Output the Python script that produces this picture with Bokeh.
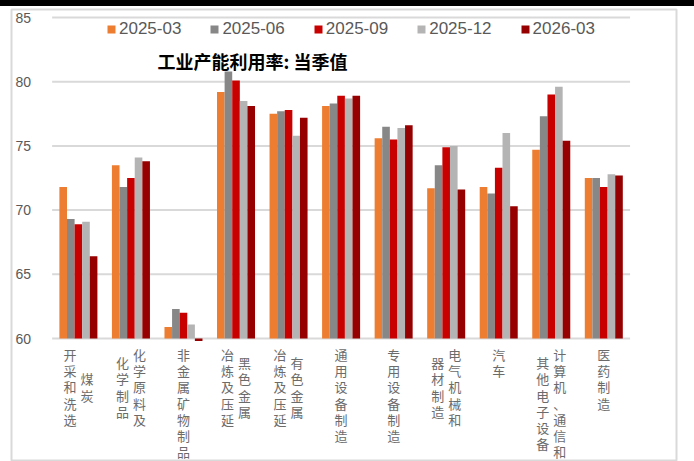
import numpy as np
from bokeh.plotting import figure
from bokeh.models import Range1d, Legend, LegendItem, Label, Div, ColumnDataSource
from bokeh.layouts import column
from bokeh.core.properties import value
from bokeh.embed import file_html
from bokeh.resources import INLINE

# ---------------- data ----------------
categories = ["煤炭开采和洗选", "化学原料及化学制品", "非金属矿物制品", "黑色金属冶炼及压延",
              "有色金属冶炼及压延", "通用设备制造", "专用设备制造", "电气机械和器材制造",
              "汽车", "计算机、通信和其他电子设备", "医药制造"]
# vertical label columns: first column (read first, right side), second column (left side)
label_first = ["煤炭", "化学原料及", "非金属矿物制品", "黑色金属", "有色金属", "通用设备制造",
               "专用设备制造", "电气机械和", "汽车", "计算机、通信和", "医药制造"]
label_second = ["开采和洗选", "化学制品", "", "冶炼及压延", "冶炼及压延", "", "",
                "器材制造", "", "其他电子设备", ""]

series_names = ["2025-03", "2025-06", "2025-09", "2025-12", "2026-03"]
s_2025_03 = [71.8, 73.5, 60.9, 79.2, 77.5, 78.1, 75.6, 71.7, 71.8, 74.7, 72.5]
s_2025_06 = [69.3, 71.8, 62.3, 80.8, 77.7, 78.3, 76.5, 73.5, 71.3, 77.3, 72.5]
s_2025_09 = [68.9, 72.5, 62.0, 80.1, 77.8, 78.9, 75.5, 74.9, 73.3, 79.0, 71.8]
s_2025_12 = [69.1, 74.1, 61.1, 78.5, 75.8, 78.7, 76.4, 75.0, 76.0, 79.6, 72.8]
s_2026_03 = [66.4, 73.8, 59.8, 78.1, 77.2, 78.9, 76.6, 71.6, 70.3, 75.4, 72.7]
series_values = [s_2025_03, s_2025_06, s_2025_09, s_2025_12, s_2026_03]
series_colors = ["#ED7D31", "#878787", "#C80000", "#B4B4B4", "#960000"]

y_ticks = [60, 65, 70, 75, 80, 85]
title_text = "工业产能利用率: 当季值"

# ---------------- layout / style ----------------
W = 694
TOP_BAR = 6
H = 461 - TOP_BAR
FRAME_L, FRAME_R = 11, 676          # page px
FRAME_T = 9                         # page px
PX_PER_CAT = 52.54
CAT0_PX = 77.9                      # page px of first category center
Y_BASE_PX = 338                     # page px of axis minimum
PX_PER_UNIT = 12.84
y_min = y_ticks[0]

frame_w = FRAME_R - FRAME_L
frame_h = 461 - FRAME_T
x_start = (FRAME_L - CAT0_PX) / PX_PER_CAT
x_end = x_start + frame_w / PX_PER_CAT
y_end = y_min + (Y_BASE_PX - FRAME_T) / PX_PER_UNIT
y_start = y_end - frame_h / PX_PER_UNIT

p = figure(width=W, height=H, output_backend="svg", toolbar_location=None,
           x_range=Range1d(x_start, x_end), y_range=Range1d(y_start, y_end),
           x_axis_location=None, y_axis_location=None,
           min_border_left=FRAME_L, min_border_right=W - FRAME_R,
           min_border_top=FRAME_T - TOP_BAR, min_border_bottom=0)
p.xgrid.visible = False
p.ygrid.visible = False
p.outline_line_color = "#D9D9D9"
p.outline_line_width = 2
p.background_fill_color = "white"
p.border_fill_color = "white"

n = len(categories)
idx = np.arange(n)

# grid lines
p.segment(x0=[-0.5] * len(y_ticks), x1=[n - 0.5] * len(y_ticks), y0=y_ticks, y1=y_ticks,
          line_color="#D9D9D9", line_width=2)

# y tick labels
p.text(x=[-0.5] * len(y_ticks), y=y_ticks, text=[str(t) for t in y_ticks],
       x_offset=-21, text_align="right", text_baseline="middle",
       text_font=value("Liberation Sans"), text_font_size="14px", text_color="#595959")

# bars
bw = 0.1447
renderers = []
for k, (name, vals, col) in enumerate(zip(series_names, series_values, series_colors)):
    r = p.vbar(x=idx + (k - 2) * bw, top=vals, bottom=y_min, width=bw,
               fill_color=col, line_color=None)
    renderers.append(r)

# category labels (vertical, stacked characters, one glyph per character)
LINE_PX = 16.2
FIRST_PX = 16
xs, xo, yo, txt = [], [], [], []
for i in range(n):
    a, b = label_first[i], label_second[i]
    cols = [(a, 8.5), (b, -8.5)] if b else [(a, 0)]
    longest = max(len(s) for s, _ in cols)
    for s, off in cols:
        start = FIRST_PX + (longest - len(s)) * LINE_PX / 2
        for j, ch in enumerate(s):
            xs.append(i); xo.append(off)
            yo.append(start + j * LINE_PX)
            txt.append(ch)
src = ColumnDataSource(dict(x=xs, y=[y_min] * len(xs), xo=xo, yo=yo, t=txt))
p.text(x="x", y="y", text="t", x_offset="xo", y_offset="yo", source=src,
       text_align="center", text_baseline="middle",
       text_font=value("Noto Sans CJK SC"), text_font_size="13px", text_color="#6B6B6B")

# legend
legend = Legend(items=[LegendItem(label=nm, renderers=[r]) for nm, r in zip(series_names, renderers)],
                orientation="horizontal", location=(95, frame_h - 30),
                glyph_width=10, glyph_height=10, label_standoff=3, spacing=28,
                padding=0, margin=0, border_line_color=None, background_fill_alpha=0,
                label_text_font="Liberation Sans", label_text_font_size="17px",
                label_text_color="#595959", label_height=20)
p.add_layout(legend)

# chart title inside plot area
p.add_layout(Label(x=146, y=461 - 60, x_units="screen", y_units="screen", text=title_text,
                   text_font="Noto Sans CJK SC", text_font_size="18px", text_font_style="bold",
                   text_baseline="middle", text_color="black"))

top_bar = Div(text="", width=W, height=TOP_BAR, margin=0,
              styles={"background-color": "black"})
layout = column(top_bar, p, spacing=0, margin=0)

open("out.html", "w").write(file_html(layout, INLINE))
